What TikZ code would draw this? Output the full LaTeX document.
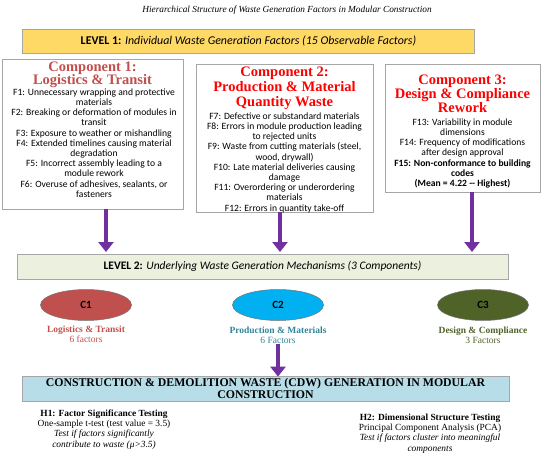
\documentclass[tikz,border=0pt]{standalone}
\usepackage{fontspec}
\setmainfont{Liberation Serif}
\newfontfamily\calfont{Carlito}
\usetikzlibrary{arrows.meta,shapes.geometric}
\definecolor{lvlyellow}{HTML}{FFD966}
\definecolor{lvlgreen}{HTML}{EBF1DE}
\definecolor{lvlblue}{HTML}{B7DEE8}
\definecolor{boxgray}{HTML}{A6A6A6}
\definecolor{arrowpurple}{HTML}{7030A0}
\definecolor{cred}{HTML}{C0504D}
\definecolor{cblue}{HTML}{00B0F0}
\definecolor{colive}{HTML}{4F6228}
\definecolor{tteal}{HTML}{31849B}
\tikzset{
  levelbox/.style={draw=boxgray, line width=0.8pt, inner sep=0pt},
  compbox/.style={draw=boxgray, line width=0.8pt, fill=white, inner sep=0pt},
  headtxt/.style={anchor=north, align=center, inner sep=0pt, font=\bfseries\fontsize{14.5}{14}\selectfont},
  bodytxt/.style={anchor=north, align=center, inner sep=0pt, font=\calfont\fontsize{9.6}{10.2}\selectfont},
  purplearrow/.style={draw=arrowpurple, line width=3.8pt, -{Triangle[width=15pt,length=10pt]}},
  compell/.style={ellipse, draw=black!55, line width=0.5pt, minimum width=91pt, minimum height=31pt, inner sep=0pt, font=\calfont\bfseries\fontsize{11}{12}\selectfont},
  elllabel/.style={anchor=north, align=center, inner sep=0pt, font=\fontsize{9.5}{10}\selectfont},
  hyptxt/.style={anchor=north, align=center, inner sep=0pt, font=\fontsize{9.4}{10.3}\selectfont}
}
\begin{document}
\begin{tikzpicture}[x=1pt,y=-1pt]
\useasboundingbox (0,0) rectangle (550,458);
% title
\node[inner sep=0pt, font=\itshape\fontsize{9.3}{10}\selectfont] (title) at (287,10) {Hierarchical Structure of Waste Generation Factors in Modular Construction};
% level 1
\node[levelbox, fill=lvlyellow, minimum width=452pt, minimum height=24pt] (lvl1) at (248.5,41) {};
\node[inner sep=0pt, font=\calfont\fontsize{11.9}{14}\selectfont] (lvl1t) at (lvl1.center) {\textbf{LEVEL 1:} \textit{Individual Waste Generation Factors (15 Observable Factors)}};
% component boxes
\node[compbox, minimum width=181pt, minimum height=150pt] (box1) at (92.5,134) {};
\node[compbox, minimum width=177pt, minimum height=148pt] (box2) at (284.5,138) {};
\node[compbox, minimum width=155pt, minimum height=128pt] (box3) at (462.5,128) {};
% headings
\node[headtxt, text=cred, font=\bfseries\fontsize{14.5}{13.4}\selectfont] (h1) at (92.5,61.5) {Component 1:\\Logistics \& Transit};
\node[headtxt, text=red, font=\bfseries\fontsize{14.5}{15.3}\selectfont] (h2) at (284.5,66.5) {Component 2:\\Production \& Material\\Quantity Waste};
\node[headtxt, text=red, font=\bfseries\fontsize{14.5}{14}\selectfont] (h3) at (462.5,75) {Component 3:\\Design \& Compliance\\Rework};
% bodies
\node[bodytxt] (b1) at (94,88.5) {F1: Unnecessary wrapping and protective\\materials\\F2: Breaking or deformation of modules in\\transit\\F3: Exposure to weather or mishandling\\F4: Extended timelines causing material\\degradation\\F5: Incorrect assembly leading to a\\module rework\\F6: Overuse of adhesives, sealants, or\\fasteners};
\node[bodytxt] (b2) at (284.5,112.5) {F7: Defective or substandard materials\\F8: Errors in module production leading\\to rejected units\\F9: Waste from cutting materials (steel,\\wood, drywall)\\F10: Late material deliveries causing\\damage\\F11: Overordering or underordering\\materials\\F12: Errors in quantity take-off};
\node[bodytxt] (b3) at (462.5,118.5) {F13: Variability in module\\dimensions\\F14: Frequency of modifications\\after design approval\\\textbf{F15: Non-conformance to building}\\\textbf{codes}\\\textbf{(Mean = 4.22 -- Highest)}};
% level 2
\node[levelbox, fill=lvlgreen, minimum width=491pt, minimum height=25pt] (lvl2) at (262.5,266.5) {};
\node[inner sep=0pt, font=\calfont\fontsize{11.5}{14}\selectfont] (lvl2t) at (lvl2.center) {\textbf{LEVEL 2:} \textit{Underlying Waste Generation Mechanisms (3 Components)}};
% arrows to level 2
\coordinate (a1e) at (106,252);
\coordinate (a2e) at (280,252);
\coordinate (a3e) at (472,252);
\draw[purplearrow] (box1.south -| a1e) -- (a1e);
\draw[purplearrow] (box2.south -| a2e) -- (a2e);
\draw[purplearrow] (box3.south -| a3e) -- (a3e);
% ellipses
\node[compell, fill=cred] (c1) at (86,305) {C1};
\node[compell, fill=cblue] (c2) at (278,305) {C2};
\node[compell, fill=colive] (c3) at (483,305) {C3};
\node[elllabel, text=cred] (l1) at (86,325.5) {\textbf{Logistics \& Transit}\\6 factors};
\node[elllabel, text=tteal] (l2) at (278,326.5) {\textbf{Production \& Materials}\\6 Factors};
\node[elllabel, text=colive] (l3) at (483,326.5) {\textbf{Design \& Compliance}\\3 Factors};
% CDW box
\node[levelbox, fill=lvlblue, minimum width=487pt, minimum height=25pt] (cdw) at (265.5,388.5) {};
\node[inner sep=0pt, align=center, font=\bfseries\fontsize{11.8}{12.6}\selectfont] (cdwt) at (cdw.center) {CONSTRUCTION \& DEMOLITION WASTE (CDW) GENERATION IN MODULAR\\CONSTRUCTION};
\draw[purplearrow] (l2.south) -- ([yshift=-1pt]cdw.north -| l2.south);
% hypotheses
\node[hyptxt] (hy1) at (104,409.5) {\textbf{H1: Factor Significance Testing}\\One-sample t-test (test value = 3.5)\\\textit{Test if factors significantly}\\\textit{contribute to waste (μ>3.5)}};
\node[hyptxt] (hy2) at (430,413.5) {\textbf{H2: Dimensional Structure Testing}\\Principal Component Analysis (PCA)\\\textit{Test if factors cluster into meaningful}\\\textit{components}};
\end{tikzpicture}
\end{document}
